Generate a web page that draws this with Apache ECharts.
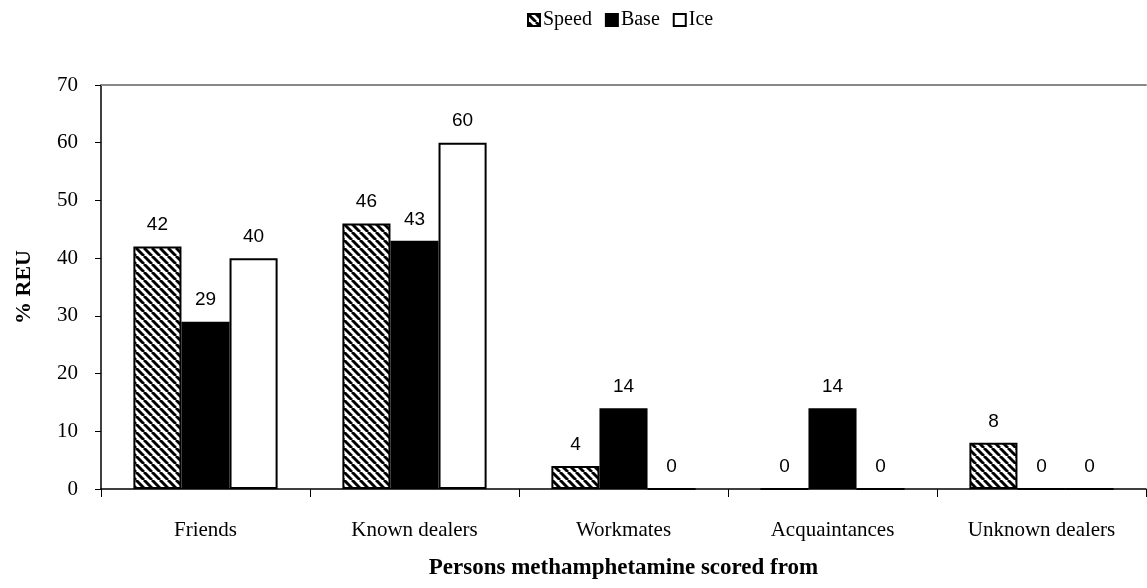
<!DOCTYPE html>
<html>
<head>
<meta charset="utf-8">
<style>
  html, body { margin: 0; padding: 0; background: #fff; }
  #chart { width: 1147px; height: 588px; }
</style>
<script src="https://cdn.jsdelivr.net/npm/echarts@6/dist/echarts.min.js"></script>
</head>
<body>
<div id="chart"></div>
<script>
// Source of methamphetamine, % of regular ecstasy users, by form of the drug
const categories = ['Friends', 'Known dealers', 'Workmates', 'Acquaintances', 'Unknown dealers'];
const speed = [42, 46, 4, 0, 8];
const base  = [29, 43, 14, 14, 0];
const ice   = [40, 60, 0, 0, 0];
const yTicks = { min: 0, max: 70, interval: 10 };

const serif = '"Liberation Serif", "Times New Roman", serif';
const sans = '"Liberation Sans", Arial, sans-serif';

// diagonal black/white hatch used for the Speed series
function hatch() {
  const s = 8;
  const c = document.createElement('canvas');
  c.width = s; c.height = s;
  const g = c.getContext('2d');
  g.fillStyle = '#fff';
  g.fillRect(0, 0, s, s);
  g.strokeStyle = '#000';
  g.lineWidth = 2.9;
  g.beginPath();
  for (let k = -1; k <= 1; k++) {
    g.moveTo(k * s, 0);
    g.lineTo(k * s + s, s);
  }
  g.stroke();
  return c;
}

const labelStyle = {
  show: true,
  position: 'top',
  distance: 12,
  color: '#000',
  fontFamily: sans,
  fontSize: 19
};

function bar(name, data, fill) {
  return {
    name, type: 'bar', data,
    barGap: '0%',
    barCategoryGap: '31%',
    itemStyle: { color: fill, borderColor: '#000', borderWidth: 2 },
    label: labelStyle,
    emphasis: { disabled: true }
  };
}

const chart = echarts.init(document.getElementById('chart'), null, { renderer: 'canvas' });
chart.setOption({
  animation: false,
  backgroundColor: '#fff',
  grid: { left: 101, right: 1, top: 85, bottom: 99, containLabel: false },
  legend: {
    top: 5,
    left: 522,
    icon: 'rect',
    itemWidth: 12,
    itemHeight: 12,
    itemGap: 13,
    textStyle: { fontFamily: serif, fontSize: 20, color: '#000', padding: [0, 0, 0, -2] },
    data: ['Speed', 'Base', 'Ice']
  },
  xAxis: [{
    type: 'category',
    data: categories,
    axisLine: { lineStyle: { color: '#000', width: 1.5 } },
    axisTick: { show: true, alignWithLabel: false, length: 8, lineStyle: { color: '#000' } },
    axisLabel: { fontFamily: serif, fontSize: 21, color: '#000', margin: 31 },
    name: 'Persons methamphetamine scored from',
    nameLocation: 'middle',
    nameGap: 68,
    nameTextStyle: { fontFamily: serif, fontSize: 23, fontWeight: 'bold', color: '#000' }
  }, {
    type: 'category',
    position: 'top',
    data: categories,
    axisLine: { lineStyle: { color: '#888', width: 2 } },
    axisTick: { show: false },
    axisLabel: { show: false }
  }],
  yAxis: {
    type: 'value',
    min: yTicks.min, max: yTicks.max, interval: yTicks.interval,
    axisLine: { show: true, lineStyle: { color: '#000', width: 1.5 } },
    axisTick: { show: true, length: 6, lineStyle: { color: '#000' } },
    splitLine: { show: false },
    axisLabel: { fontFamily: serif, fontSize: 21, color: '#000', margin: 23 },
    name: '% REU',
    nameLocation: 'middle',
    nameGap: 66,
    nameTextStyle: { fontFamily: serif, fontSize: 22, fontWeight: 'bold', color: '#000' }
  },
  series: [
    bar('Speed', speed, { image: hatch(), repeat: 'repeat' }),
    bar('Base', base, '#000'),
    bar('Ice', ice, '#fff')
  ]
});
</script>
</body>
</html>
